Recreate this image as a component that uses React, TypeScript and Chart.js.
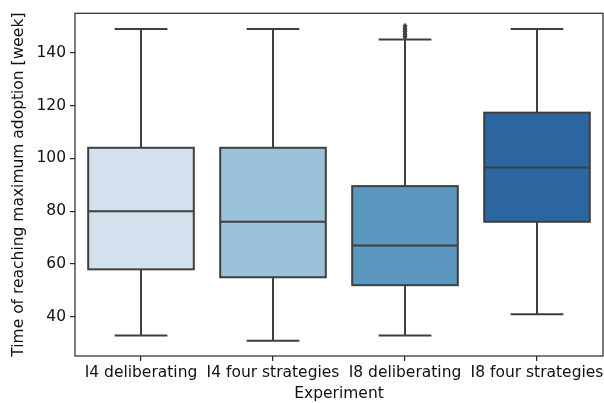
import React, { useEffect, useRef } from "react";
import { Chart, registerables } from "chart.js";

Chart.register(...registerables);

// Experiment groups and their box-plot summaries (weeks)
const categories = ["I4 deliberating", "I4 four strategies", "I8 deliberating", "I8 four strategies"];
const whiskerLow = [33, 31, 33, 41];
const q1 = [58, 55, 52, 76];
const median = [80, 76, 67, 96.5];
const q3 = [104, 104, 89.5, 117.3];
const whiskerHigh = [149, 149, 145, 149];
const outliers: number[][] = [[], [], [146, 147, 148, 149, 150], []];
const yTicks = [40, 60, 80, 100, 120, 140];

const boxColors = ["#d3e1ef", "#9bc2d9", "#5b96bf", "#2b66a0"];
const lineColor = "#3f3f3f";
const FONT = "'DejaVu Sans', sans-serif";
const FONT_SIZE = 15.5;

const boxPlotPlugin = {
  id: "boxParts",
  afterDatasetsDraw(chart: any) {
    const { ctx, chartArea, scales } = chart;
    const xs = scales.x;
    const ys = scales.y;
    const meta = chart.getDatasetMeta(0);
    ctx.save();
    ctx.strokeStyle = lineColor;
    ctx.lineWidth = 2;
    ctx.lineCap = "butt";
    categories.forEach((_, i) => {
      const x = xs.getPixelForValue(i);
      const bar = meta.data[i];
      const half = bar.width / 2;
      const capHalf = half / 2;
      const yLo = ys.getPixelForValue(whiskerLow[i]);
      const yQ1 = ys.getPixelForValue(q1[i]);
      const yQ3 = ys.getPixelForValue(q3[i]);
      const yHi = ys.getPixelForValue(whiskerHigh[i]);
      const yMed = ys.getPixelForValue(median[i]);
      // box outline
      ctx.strokeRect(x - half, yQ3, half * 2, yQ1 - yQ3);
      ctx.beginPath();
      // whiskers
      ctx.moveTo(x, yQ1);
      ctx.lineTo(x, yLo);
      ctx.moveTo(x, yQ3);
      ctx.lineTo(x, yHi);
      // caps
      ctx.moveTo(x - capHalf, yLo);
      ctx.lineTo(x + capHalf, yLo);
      ctx.moveTo(x - capHalf, yHi);
      ctx.lineTo(x + capHalf, yHi);
      // median
      ctx.moveTo(x - half, yMed);
      ctx.lineTo(x + half, yMed);
      ctx.stroke();
      // fliers as thin diamonds
      ctx.fillStyle = lineColor;
      outliers[i].forEach((v) => {
        const y = ys.getPixelForValue(v);
        ctx.beginPath();
        ctx.moveTo(x, y - 3.5);
        ctx.lineTo(x + 2.5, y);
        ctx.lineTo(x, y + 3.5);
        ctx.lineTo(x - 2.5, y);
        ctx.closePath();
        ctx.fill();
      });
    });
    // axes frame
    ctx.strokeStyle = "#262626";
    ctx.lineWidth = 1.2;
    ctx.strokeRect(chartArea.left, chartArea.top, chartArea.right - chartArea.left, chartArea.bottom - chartArea.top);
    ctx.restore();
  },
};

export default function App() {
  const ref = useRef<HTMLCanvasElement | null>(null);

  useEffect(() => {
    if (!ref.current) return;
    const chart = new Chart(ref.current, {
      type: "bar",
      data: {
        labels: categories,
        datasets: [
          {
            data: categories.map((_, i) => [q1[i], q3[i]] as [number, number]),
            backgroundColor: boxColors,
            borderWidth: 0,
            barPercentage: 0.8,
            categoryPercentage: 1,
          },
        ],
      },
      options: {
        animation: false,
        responsive: true,
        maintainAspectRatio: false,
        layout: { padding: { top: 13, right: 1, left: 0, bottom: 0 } },
        plugins: {
          legend: { display: false },
          tooltip: { enabled: false },
        },
        scales: {
          x: {
            grid: { offset: false, drawOnChartArea: false, drawTicks: true, tickLength: 5, color: "#262626", lineWidth: 1.2 },
            border: { display: false },
            ticks: { color: "#111", font: { family: FONT, size: FONT_SIZE }, padding: 3, maxRotation: 0, autoSkip: false },
            title: { display: true, text: "Experiment", color: "#111", font: { family: FONT, size: FONT_SIZE }, padding: { top: 2, bottom: 0 } },
            afterFit(scale: any) {
              scale.height = 47;
              scale.paddingLeft = 0;
              scale.paddingRight = 0;
            },
          },
          y: {
            min: 25.2,
            max: 154.9,
            grid: { drawOnChartArea: false, drawTicks: true, tickLength: 5, color: "#262626", lineWidth: 1.2 },
            border: { display: false },
            afterBuildTicks(scale: any) {
              scale.ticks = yTicks.map((v) => ({ value: v }));
            },
            ticks: { color: "#111", font: { family: FONT, size: FONT_SIZE }, padding: 4 },
            title: {
              display: true,
              text: "Time of reaching maximum adoption [week]",
              color: "#111",
              font: { family: FONT, size: FONT_SIZE },
              padding: { top: 10, bottom: 4 },
            },
            afterFit(scale: any) {
              scale.width = 75;
            },
          },
        },
      },
      plugins: [boxPlotPlugin],
    });
    return () => chart.destroy();
  }, []);

  return (
    <div style={{ position: "fixed", left: 0, top: 0, width: 604, height: 403, background: "#fff" }}>
      <canvas ref={ref} />
    </div>
  );
}
